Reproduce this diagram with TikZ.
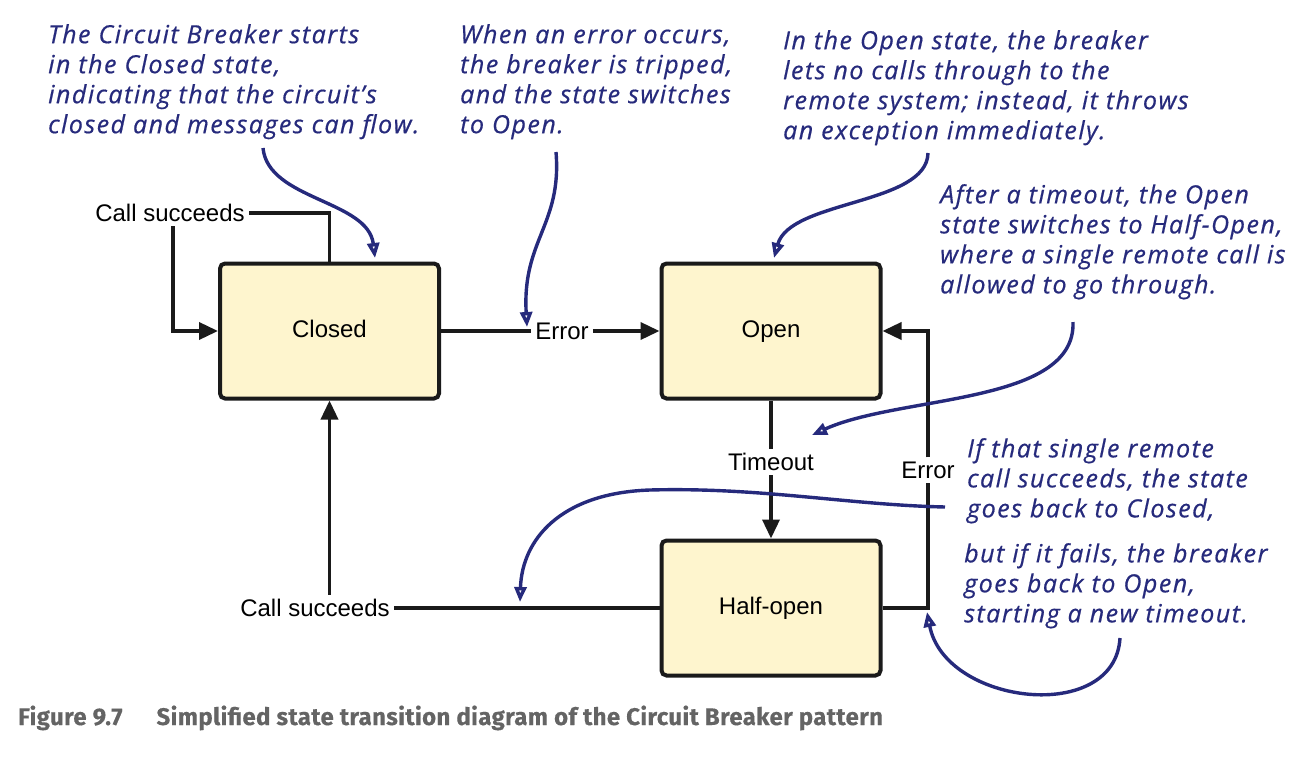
\documentclass[tikz,border=0pt]{standalone}
\usepackage{fontspec}
\setmainfont{Liberation Sans}
\newfontfamily\handfont[LetterSpace=6,FakeBold=0.6]{Open Sans}
\newfontfamily\capfont[LetterSpace=1.5,FakeBold=0.4]{Fira Sans}
\usetikzlibrary{arrows.meta}
\definecolor{boxfill}{RGB}{254,245,206}
\definecolor{ink}{RGB}{38,42,124}
\definecolor{capgray}{RGB}{100,100,100}
\definecolor{lineblack}{RGB}{26,26,26}
\begin{document}
\begin{tikzpicture}[x=1pt,y=-1pt,
  state/.style={draw=lineblack, line width=4pt, rounded corners=5pt, fill=boxfill,
    minimum width=219pt, minimum height=135pt, inner sep=0pt,
    text height=17pt, text depth=5pt,
    font=\fontsize{24}{28}\selectfont},
  lbl/.style={font=\fontsize{24}{28}\selectfont, inner sep=4pt},
  conn/.style={line width=3.6pt, draw=lineblack},
  arr/.style={conn, -{Triangle[length=19pt,width=17pt]}},
  note/.style={font=\handfont\itshape\fontsize{25}{30}\selectfont, text=ink,
    align=left, anchor=north west, inner sep=0pt},
  pointer/.style={draw=ink, line width=3.4pt,
    -{Triangle[open,length=15pt,width=12pt,fill=white]}}
]
\useasboundingbox (0,0) rectangle (1310,768);

% states
\node[state] (closed) at (329.5,331) {Closed};
\node[state] (open)   at (771,331)   {Open};
\node[state] (half)   at (771,608)   {Half-open};

% connector labels
\node[lbl] (cs1)  at (170,213) {Call succeeds};
\node[lbl] (err1) at (562,331) {Error};
\node[lbl] (tmo)  at (771,462) {Timeout};
\node[lbl] (err2) at (928,470) {Error};
\node[lbl] (cs2)  at (315,608) {Call succeeds};

% connectors
\draw[conn] (closed.north) |- (cs1.east);
\draw[arr]  ([xshift=3pt]cs1.south) |- (closed.west);
\draw[conn] (closed.east) -- (err1.west);
\draw[arr]  (err1.east) -- (open.west);
\draw[conn] (open.south) -- (tmo.north);
\draw[arr]  (tmo.south) -- (half.north);
\draw[conn] (half.east) -| (err2.south);
\draw[arr]  (err2.north) |- (open.east);
\draw[conn] (half.west) -- (cs2.east);
\draw[arr]  (cs2.north -| closed.south) -- (closed.south);

% annotations
\node[note] (n1) at (48,24) {The Circuit Breaker starts\\in the Closed state,\\indicating that the circuit’s\\closed and messages can flow.};
\node[note] (n2) at (460,24) {When an error occurs,\\the breaker is tripped,\\and the state switches\\to Open.};
\node[note] (n3) at (783,30) {In the Open state, the breaker\\lets no calls through to the\\remote system; instead, it throws\\an exception immediately.};
\node[note] (n4) at (940,184) {After a timeout, the Open\\state switches to Half-Open,\\where a single remote call is\\allowed to go through.};
\node[note] (n5) at (967,438) {If that single remote\\call succeeds, the state\\goes back to Closed,};
\node[note] (n6) at (964,543) {but if it fails, the breaker\\goes back to Open,\\starting a new timeout.};

% pointer coordinates
\coordinate (p1s) at (263,148);  \coordinate (p1e) at (375,258);
\coordinate (p2s) at (556,152);  \coordinate (p2e) at (527,327);
\coordinate (p3s) at (928,153);  \coordinate (p3e) at (774,258);
\coordinate (p4s) at (1073,322); \coordinate (p4e) at (812,435);
\coordinate (p5s) at (945,507);  \coordinate (p5e) at (520,602);
\coordinate (p6s) at (1120,638); \coordinate (p6e) at (927,612);

\draw[pointer] (p1s) .. controls (268,200) and (368,200) .. (p1e);
\draw[pointer] (p2s) .. controls (562,225) and (522,240) .. (p2e);
\draw[pointer] (p3s) .. controls (927,205) and (790,200) .. (p3e);
\draw[pointer] (p4s) .. controls (1076,405) and (900,395) .. (p4e);
\draw[pointer] (p5s) .. controls (850,505) and (760,487) .. (650,490)
                     .. controls (560,493) and (522,540) .. (p5e);
\draw[pointer] (p6s) .. controls (1115,725) and (945,705) .. (p6e);

% caption
\node[font=\capfont\bfseries\fontsize{24}{27}\selectfont, text=capgray,
  anchor=base west, inner sep=0pt] (cap) at (18,725)
  {Figure 9.7\hspace{34pt}Simplified state transition diagram of the Circuit Breaker pattern};
\end{tikzpicture}
\end{document}
